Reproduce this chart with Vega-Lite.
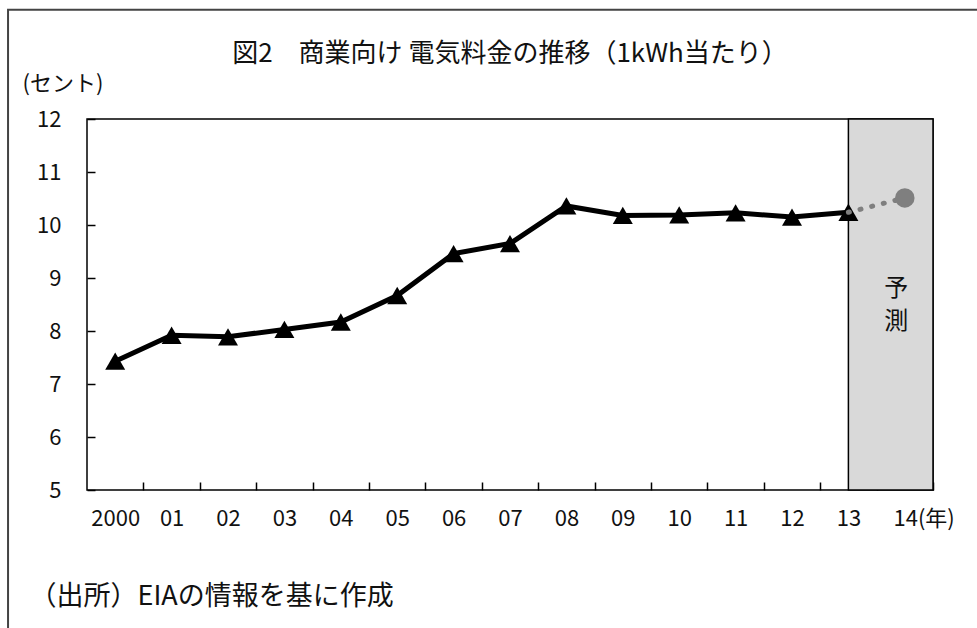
{
  "$schema": "https://vega.github.io/schema/vega-lite/v6.json",
  "width": 846,
  "height": 371,
  "autosize": {"type": "none"},
  "padding": {"left": 87, "top": 119, "right": 44, "bottom": 138},
  "background": "white",
  "config": {
    "view": {"stroke": "#000", "strokeWidth": 1.5},
    "font": "Noto Sans CJK JP"
  },
  "title": {
    "text": "図2　商業向け 電気料金の推移（1kWh当たり）",
    "fontSize": 26,
    "fontWeight": "normal",
    "color": "#111",
    "anchor": "middle",
    "frame": "group",
    "offset": -58
  },
  "datasets": {
    "actual": [
      {"year": 2000, "value": 7.43},
      {"year": 2001, "value": 7.92},
      {"year": 2002, "value": 7.89},
      {"year": 2003, "value": 8.03},
      {"year": 2004, "value": 8.17},
      {"year": 2005, "value": 8.67},
      {"year": 2006, "value": 9.46},
      {"year": 2007, "value": 9.65},
      {"year": 2008, "value": 10.36},
      {"year": 2009, "value": 10.18},
      {"year": 2010, "value": 10.19},
      {"year": 2011, "value": 10.23},
      {"year": 2012, "value": 10.15},
      {"year": 2013, "value": 10.24}
    ],
    "forecast": [
      {"year": 2013, "value": 10.24},
      {"year": 2014, "value": 10.51}
    ],
    "one": [{"label": "予測"}]
  },
  "layer": [
    {
      "data": {"name": "one"},
      "mark": {"type": "rect", "fillOpacity": 0, "stroke": "#444", "strokeWidth": 2, "clip": false},
      "encoding": {
        "x": {"datum": 1998.1, "type": "quantitative"},
        "x2": {"datum": 2016.5},
        "y": {"datum": 14.06, "type": "quantitative"},
        "y2": {"datum": 2}
      }
    },
    {
      "data": {"name": "one"},
      "mark": {"type": "rect", "fill": "#d9d9d9", "stroke": "#000", "strokeWidth": 1.5},
      "encoding": {
        "x": {"datum": 2013, "type": "quantitative"},
        "x2": {"datum": 2014.5},
        "y": {"datum": 5, "type": "quantitative"},
        "y2": {"datum": 12}
      }
    },
    {
      "data": {"name": "one"},
      "mark": {"type": "text", "text": ["予", "測"], "fontSize": 24, "lineHeight": 33, "color": "#111", "baseline": "middle", "align": "center"},
      "encoding": {
        "x": {"datum": 2013.85, "type": "quantitative"},
        "y": {"datum": 8.79, "type": "quantitative"}
      }
    },
    {
      "data": {"name": "actual"},
      "mark": {
        "type": "line",
        "color": "#000",
        "strokeWidth": 5,
        "point": {"shape": "triangle-up", "size": 400, "filled": true, "color": "#000", "opacity": 1}
      },
      "encoding": {
        "x": {
          "field": "year",
          "type": "quantitative",
          "scale": {"domain": [1999.5, 2014.5], "nice": false, "zero": false},
          "axis": {
            "values": [2000.5, 2001.5, 2002.5, 2003.5, 2004.5, 2005.5, 2006.5, 2007.5, 2008.5, 2009.5, 2010.5, 2011.5, 2012.5, 2013.5, 2014.5],
            "labelExpr": "floor(datum.value) == 2000 ? '2000' : (floor(datum.value) == 2014 ? '14(年)' : (floor(datum.value) < 2010 ? '0' + (floor(datum.value) - 2000) : '' + (floor(datum.value) - 2000)))",
            "offset": -8,
            "tickSize": 8,
            "tickColor": "#000",
            "tickWidth": 1.5,
            "domain": false,
            "grid": false,
            "labelFontSize": 22,
            "labelColor": "#111",
            "labelPadding": 18,
            "labelFlush": false,
            "labelOverlap": false,
            "labelBound": false,
            "labelOffset": {"condition": {"test": "datum.value > 2014", "value": -40}, "value": -28.2},
            "labelAlign": {"condition": {"test": "datum.value > 2014", "value": "left"}, "value": "center"},
            "title": "（出所）EIAの情報を基に作成",
            "titleFontSize": 27,
            "titleFontWeight": "normal",
            "titleColor": "#111",
            "titleAnchor": "start",
            "titleAlign": "left",
            "titleBaseline": "middle",
            "titleX": -58,
            "titleY": 114
          }
        },
        "y": {
          "field": "value",
          "type": "quantitative",
          "scale": {"domain": [5, 12], "nice": false, "zero": false},
          "axis": {
            "values": [5, 6, 7, 8, 9, 10, 11, 12],
            "format": "d",
            "offset": -8,
            "tickSize": 8,
            "tickColor": "#000",
            "tickWidth": 1.5,
            "domain": false,
            "grid": false,
            "labelFontSize": 22,
            "labelColor": "#111",
            "labelPadding": 26,
            "title": "(セント)",
            "titleAngle": 0,
            "titleFontSize": 22,
            "titleFontWeight": "normal",
            "titleColor": "#111",
            "titleAlign": "left",
            "titleBaseline": "middle",
            "titleX": -73,
            "titleY": -36
          }
        }
      }
    },
    {
      "data": {"name": "forecast"},
      "mark": {"type": "line", "color": "#7f7f7f", "strokeWidth": 5, "strokeDash": [1, 11], "strokeCap": "round"},
      "encoding": {
        "x": {"field": "year", "type": "quantitative"},
        "y": {"field": "value", "type": "quantitative"}
      }
    },
    {
      "data": {"name": "forecast"},
      "transform": [{"filter": "datum.year == 2014"}],
      "mark": {"type": "point", "shape": "circle", "size": 380, "filled": true, "color": "#7f7f7f", "opacity": 1},
      "encoding": {
        "x": {"field": "year", "type": "quantitative"},
        "y": {"field": "value", "type": "quantitative"}
      }
    }
  ]
}
